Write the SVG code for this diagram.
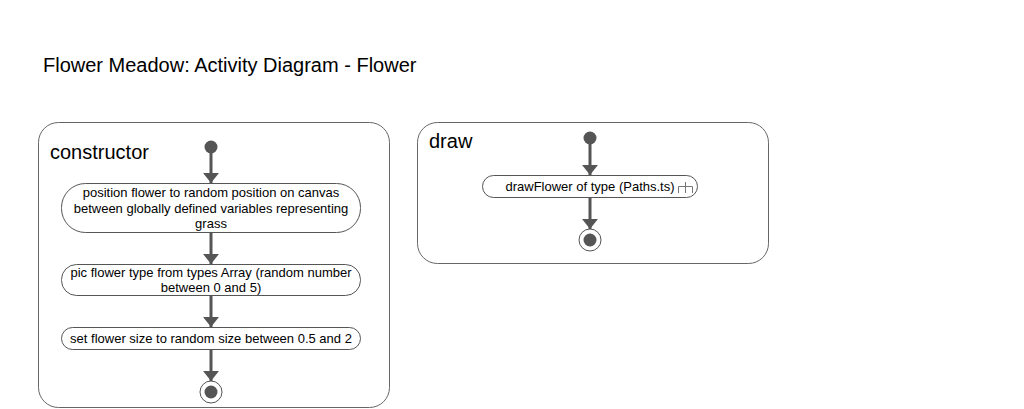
<svg xmlns="http://www.w3.org/2000/svg" width="1024" height="409" viewBox="0 0 1024 409">
<style>
  text { font-family: "Liberation Sans", Arial, sans-serif; fill: #000; }
  .frame { fill: #fff; stroke: #666; stroke-width: 1; }
  .act { fill: #fff; stroke: #555; stroke-width: 1; }
  .t { font-size: 13px; text-anchor: middle; }
  .lbl { font-size: 20px; }
  .edge { stroke: #555; stroke-width: 3; fill: none; marker-end: url(#arr); }
  .dot { fill: #555; }
</style>
<defs>
  <marker id="arr" viewBox="0 0 10 10" refX="10" refY="5" markerWidth="3.4" markerHeight="5.4" orient="auto" markerUnits="strokeWidth" preserveAspectRatio="none">
    <path d="M0,0 L10,5 L0,10 Z" fill="#555"/>
  </marker>
</defs>
<rect width="1024" height="409" fill="#fff"/>
<text x="43" y="72" class="lbl">Flower Meadow: Activity Diagram - Flower</text>

<g id="constructor">
  <rect class="frame" x="38.5" y="122.5" width="351" height="285" rx="20"/>
  <text x="50" y="159" class="lbl">constructor</text>
</g>
<g id="draw">
  <rect class="frame" x="417.5" y="122.5" width="351" height="141" rx="20"/>
  <text x="429" y="148" class="lbl">draw</text>
</g>

<g id="c-start"><circle class="dot" cx="211" cy="147" r="6.5"/></g>
<g id="c-act1">
  <rect class="act" x="61.5" y="183.5" width="299" height="49" rx="24"/>
  <text class="t" x="211" y="197">position flower to random position on canvas</text>
  <text class="t" x="211" y="213">between globally defined variables representing</text>
  <text class="t" x="211" y="228">grass</text>
</g>
<g id="c-act2">
  <rect class="act" x="61.5" y="264.5" width="299" height="31" rx="15"/>
  <text class="t" x="211" y="277">pic flower type from types Array (random number</text>
  <text class="t" x="211" y="292">between 0 and 5)</text>
</g>
<g id="c-act3">
  <rect class="act" x="61.5" y="327.5" width="299" height="22" rx="11"/>
  <text class="t" x="211" y="343">set flower size to random size between 0.5 and 2</text>
</g>
<g id="c-end">
  <circle cx="211" cy="392" r="11" fill="#fff" stroke="#555" stroke-width="1"/>
  <circle class="dot" cx="211" cy="392" r="6.5"/>
</g>

<g id="d-start"><circle class="dot" cx="590" cy="138" r="6.5"/></g>
<g id="d-act">
  <rect class="act" x="482.5" y="175.5" width="215" height="22" rx="11"/>
  <text class="t" x="590" y="191">drawFlower of type (Paths.ts)</text>
  <path d="M678.5,193 V186.5 H692.5 V193 M685.5,182 V193" fill="none" stroke="#777" stroke-width="1"/>
</g>
<g id="d-end">
  <circle cx="590" cy="240" r="11" fill="#fff" stroke="#555" stroke-width="1"/>
  <circle class="dot" cx="590" cy="240" r="6.5"/>
</g>

<g id="connectors">
  <line class="edge" x1="211" y1="152" x2="211" y2="183"/>
  <line class="edge" x1="211" y1="233" x2="211" y2="264"/>
  <line class="edge" x1="211" y1="296" x2="211" y2="327"/>
  <line class="edge" x1="211" y1="350" x2="211" y2="381"/>
  <line class="edge" x1="590" y1="143" x2="590" y2="175"/>
  <line class="edge" x1="590" y1="198" x2="590" y2="229"/>
</g>
</svg>
